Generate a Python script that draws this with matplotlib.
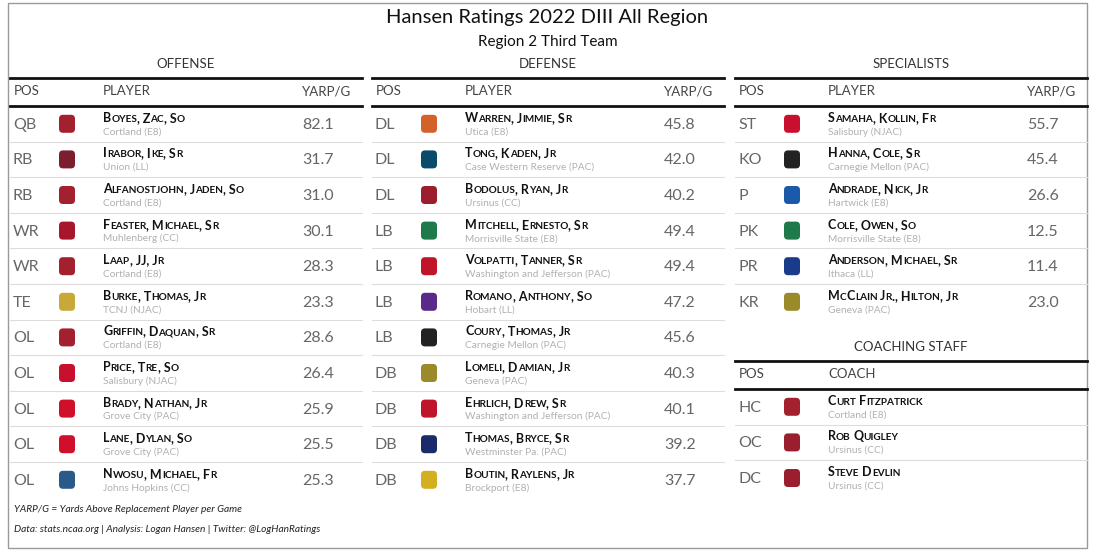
import matplotlib
matplotlib.use("Agg")
import matplotlib.pyplot as plt
from matplotlib.patches import Rectangle, FancyBboxPatch

plt.rcParams['font.family'] = ['Lato', 'DejaVu Sans']

W, H = 1095, 552
title = "Hansen Ratings 2022 DIII All Region"
subtitle = "Region 2 Third Team"

off_pos = ["QB", "RB", "RB", "WR", "WR", "TE", "OL", "OL", "OL", "OL", "OL"]
off_names = ["Boyes, Zac, So", "Irabor, Ike, Sr", "Alfanostjohn, Jaden, So", "Feaster, Michael, Sr",
             "Laap, JJ, Jr", "Burke, Thomas, Jr", "Griffin, Daquan, Sr", "Price, Tre, So",
             "Brady, Nathan, Jr", "Lane, Dylan, So", "Nwosu, Michael, Fr"]
off_teams = ["Cortland (E8)", "Union (LL)", "Cortland (E8)", "Muhlenberg (CC)", "Cortland (E8)",
             "TCNJ (NJAC)", "Cortland (E8)", "Salisbury (NJAC)", "Grove City (PAC)", "Grove City (PAC)",
             "Johns Hopkins (CC)"]
off_vals = [82.1, 31.7, 31.0, 30.1, 28.3, 23.3, 28.6, 26.4, 25.9, 25.5, 25.3]

def_pos = ["DL", "DL", "DL", "LB", "LB", "LB", "LB", "DB", "DB", "DB", "DB"]
def_names = ["Warren, Jimmie, Sr", "Tong, Kaden, Jr", "Bodolus, Ryan, Jr", "Mitchell, Ernesto, Sr",
             "Volpatti, Tanner, Sr", "Romano, Anthony, So", "Coury, Thomas, Jr", "Lomeli, Damian, Jr",
             "Ehrlich, Drew, Sr", "Thomas, Bryce, Sr", "Boutin, Raylens, Jr"]
def_teams = ["Utica (E8)", "Case Western Reserve (PAC)", "Ursinus (CC)", "Morrisville State (E8)",
             "Washington and Jefferson (PAC)", "Hobart (LL)", "Carnegie Mellon (PAC)", "Geneva (PAC)",
             "Washington and Jefferson (PAC)", "Westminster Pa. (PAC)", "Brockport (E8)"]
def_vals = [45.8, 42.0, 40.2, 49.4, 49.4, 47.2, 45.6, 40.3, 40.1, 39.2, 37.7]

spc_pos = ["ST", "KO", "P", "PK", "PR", "KR"]
spc_names = ["Samaha, Kollin, Fr", "Hanna, Cole, Sr", "Andrade, Nick, Jr", "Cole, Owen, So",
             "Anderson, Michael, Sr", "McClain Jr., Hilton, Jr"]
spc_teams = ["Salisbury (NJAC)", "Carnegie Mellon (PAC)", "Hartwick (E8)", "Morrisville State (E8)",
             "Ithaca (LL)", "Geneva (PAC)"]
spc_vals = [55.7, 45.4, 26.6, 12.5, 11.4, 23.0]

coach_pos = ["HC", "OC", "DC"]
coach_names = ["Curt Fitzpatrick", "Rob Quigley", "Steve Devlin"]
coach_teams = ["Cortland (E8)", "Ursinus (CC)", "Ursinus (CC)"]

team_colors = {
    "Cortland": "#a3202e", "Union": "#7b1e2e", "Muhlenberg": "#a8162c", "TCNJ": "#c9a83a",
    "Salisbury": "#c8102e", "Grove City": "#d0102a", "Johns Hopkins": "#2a5a8a", "Utica": "#d2622a",
    "Case Western Reserve": "#0a4a6a", "Ursinus": "#9a1e2e", "Morrisville State": "#1e7a4a",
    "Washington and Jefferson": "#c0142a", "Hobart": "#5a2a8a", "Carnegie Mellon": "#222222",
    "Geneva": "#9a8a2a", "Westminster Pa.": "#1a2a6a", "Brockport": "#d4b020",
    "Hartwick": "#1a5aa8", "Ithaca": "#1a3a8a",
}

fig = plt.figure(figsize=(W / 100, H / 100), dpi=100)
ax = fig.add_axes([0, 0, 1, 1])
ax.set_xlim(0, W)
ax.set_ylim(H, 0)
ax.axis("off")
renderer = fig.canvas.get_renderer()

ax.add_patch(Rectangle((8, 3), 1079, 545, fill=False, ec="#9a9a9a", lw=1))
ax.text(W / 2, 18, title, ha="center", va="center", fontsize=14.5, color="#111")
ax.text(W / 2, 42, subtitle, ha="center", va="center", fontsize=11, color="#111")

def smallcaps(x, y, s, big=9, small=7.2):
    runs = []
    for ch in s:
        is_low = ch.islower()
        if runs and runs[-1][1] == is_low:
            runs[-1][0] += ch
        else:
            runs.append([ch, is_low])
    for txt, low in runs:
        t = ax.text(x, y, txt.upper(), fontsize=small if low else big, fontweight="bold",
                    color="#111", va="baseline", ha="left")
        bb = t.get_window_extent(renderer)
        x += bb.width

def logo(x, y, team):
    c = team_colors.get(team.split(" (")[0], "#888")
    ax.add_patch(FancyBboxPatch((x - 8, y - 9), 16, 18, boxstyle="round,pad=0,rounding_size=4",
                                fc=c, ec="none"))

def panel(x0, x1, name, head2, pos, names, teams, vals, ytitle=64, row_h=35.6):
    ax.text((x0 + x1) / 2, ytitle, name, ha="center", va="center", fontsize=9.5, color="#333")
    ax.plot([x0, x1], [ytitle + 14, ytitle + 14], color="#111", lw=2)
    ax.text(x0 + 4, ytitle + 27, "POS", va="center", fontsize=9.5, color="#444")
    ax.text(x0 + 93, ytitle + 27, head2, va="center", fontsize=9.5, color="#444")
    if vals is not None:
        ax.text(x0 + 292, ytitle + 27, "YARP/G", va="center", ha="left", fontsize=9.5, color="#444")
    ytop = ytitle + 42
    ax.plot([x0, x1], [ytop, ytop], color="#111", lw=2)
    for i in range(len(pos)):
        yc = ytop + row_h * (i + 0.5)
        ax.text(x0 + 3, yc + 1, pos[i], va="center", fontsize=11.5, color="#666")
        logo(x0 + 57, yc, teams[i])
        smallcaps(x0 + 93, yc - 2, names[i])
        ax.text(x0 + 93, yc + 8, teams[i], va="center", fontsize=7.3, color="#b0b0b0")
        if vals is not None:
            ax.text(x0 + 292, yc + 1, f"{vals[i]:.1f}", va="center", fontsize=11.5, color="#666")
        if i < len(pos) - 1:
            ax.plot([x0, x1], [ytop + row_h * (i + 1)] * 2, color="#dddddd", lw=0.8)

panel(10, 362, "OFFENSE", "PLAYER", off_pos, off_names, off_teams, off_vals)
panel(372, 724, "DEFENSE", "PLAYER", def_pos, def_names, def_teams, def_vals)
panel(735, 1087, "SPECIALISTS", "PLAYER", spc_pos, spc_names, spc_teams, spc_vals)
panel(735, 1087, "COACHING STAFF", "COACH", coach_pos, coach_names, coach_teams, None, ytitle=347)

ax.text(14, 510, "YARP/G = Yards Above Replacement Player per Game", fontsize=7.3, style="italic",
        color="#222", va="center")
ax.text(14, 529, "Data: stats.ncaa.org | Analysis: Logan Hansen | Twitter: @LogHanRatings", fontsize=7.3,
        style="italic", color="#222", va="center")

fig.savefig("out.png", dpi=100)
